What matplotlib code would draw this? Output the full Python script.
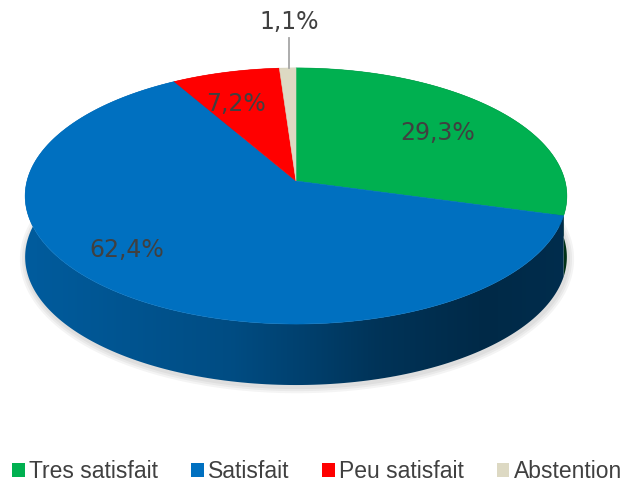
import numpy as np
import matplotlib.pyplot as plt
from matplotlib.colors import to_rgb
from matplotlib.patches import Patch, Polygon

# data
categories = ['Tres satisfait', 'Satisfait', 'Peu satisfait', 'Abstention']
values = [29.3, 62.4, 7.2, 1.1]
pct_labels = ['29,3%', '62,4%', '7,2%', '1,1%']
colors = ['#00B050', '#0070C0', '#FF0000', '#DDD9C3']

# pie geometry (pixel space)
cx, cy = 296, 181
ra, rb = 269, 126.3
persp = 0.117
depth = 61
label_xy = [(438, 133), (127, 250), (236, 104), (289, 22)]


def proj(t):
    u = np.sin(t)
    v = -np.cos(t)
    s = 1.0 / (1.0 - persp * v)
    return cx + ra * u * s, cy + rb * v * s


fig = plt.figure(figsize=(6.27, 4.84), dpi=100)
ax = fig.add_axes([0, 0, 1, 1])
ax.set_xlim(0, 627)
ax.set_ylim(484, 0)
ax.axis('off')

fracs = np.array(values) / sum(values)
bounds = np.concatenate([[0], np.cumsum(fracs)]) * 2 * np.pi

# soft shadow under the pie
tt = np.linspace(0, 2 * np.pi, 300)
sx, sy = proj(tt)
for w in [9, 6, 3]:
    ax.plot(sx + 1, sy + depth + 2, color='black', alpha=0.045, lw=w, zorder=0.5)

# side walls with a left-to-right darkening gradient
gx = np.arange(628)
shade = np.interp(gx, [25, 234, 377, 485, 566], [0.82, 0.68, 0.46, 0.37, 0.40])
for i in [3, 2, 0, 1]:
    t = np.linspace(bounds[i], bounds[i + 1], 200)
    x, y = proj(t)
    pts = np.c_[np.r_[x, x[::-1]], np.r_[y, y[::-1] + depth]]
    poly = Polygon(pts, closed=True, fc='none', ec='none')
    ax.add_patch(poly)
    k = 0.7 if i == 0 else 1.0
    grad = np.clip(np.outer(shade * k, to_rgb(colors[i])), 0, 1)[None, :, :]
    im = ax.imshow(grad, extent=[0, 627, 484, 0], aspect='auto',
                   interpolation='bilinear', zorder=1)
    im.set_clip_path(poly)
ax.set_xlim(0, 627)
ax.set_ylim(484, 0)

# top faces
for i in range(len(values)):
    t = np.linspace(bounds[i], bounds[i + 1], 200)
    x, y = proj(t)
    ax.fill(np.r_[cx, x], np.r_[cy, y], color=colors[i], lw=0.4, ec=colors[i], zorder=2)

# data labels
for i, (lx, ly) in enumerate(label_xy):
    ax.text(lx, ly, pct_labels[i], ha='center', va='center', fontsize=17,
            color='#404040', family='DejaVu Sans', zorder=5)
ax.plot([289, 289], [38, 68], color='#A6A6A6', lw=1.3, zorder=4)

handles = [Patch(facecolor=c, edgecolor='none') for c in colors]
fig.legend(handles, categories, loc='center', ncol=4,
           bbox_to_anchor=(0.506, 1 - 472 / 484), frameon=False,
           prop={'family': 'Liberation Sans', 'size': 16.5},
           handlelength=0.55, handleheight=0.55, handletextpad=0.2,
           columnspacing=1.42, labelcolor='#404040')

fig.savefig('out.png', dpi=100)
